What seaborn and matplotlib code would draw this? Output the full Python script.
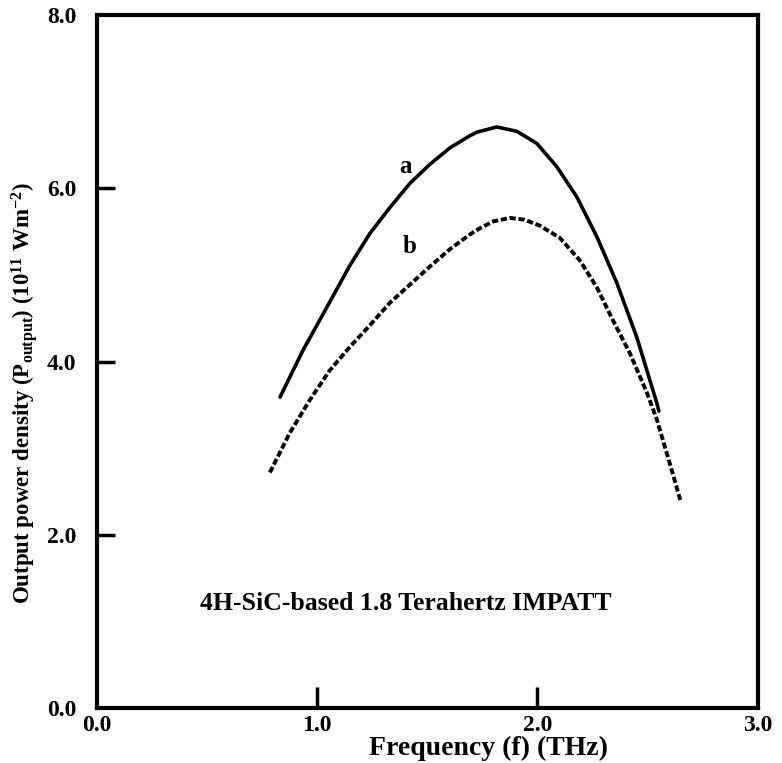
import numpy as np
import pandas as pd
import matplotlib
matplotlib.use("Agg")
import matplotlib.pyplot as plt
import seaborn as sns

# Data
freq_a = [0.831, 0.935, 1.044, 1.148, 1.239, 1.330, 1.421, 1.512, 1.603, 1.694, 1.725,
          1.815, 1.906, 1.997, 2.088, 2.179, 2.270, 2.360, 2.451, 2.542, 2.551]
power_a = [3.59, 4.13, 4.63, 5.11, 5.48, 5.78, 6.06, 6.28, 6.47, 6.61, 6.65,
           6.71, 6.66, 6.52, 6.25, 5.90, 5.44, 4.91, 4.28, 3.52, 3.43]
freq_b = [0.785, 0.876, 0.967, 1.057, 1.148, 1.239, 1.330, 1.421, 1.512, 1.603, 1.694,
          1.738, 1.800, 1.874, 1.940, 2.011, 2.101, 2.192, 2.269, 2.342, 2.419, 2.497,
          2.542, 2.592, 2.651]
power_b = [2.72, 3.18, 3.56, 3.90, 4.17, 4.42, 4.68, 4.89, 5.10, 5.30, 5.47,
           5.54, 5.62, 5.66, 5.64, 5.57, 5.43, 5.17, 4.86, 4.48, 4.10, 3.64,
           3.33, 2.90, 2.38]
x_ticks = [0.0, 1.0, 2.0, 3.0]
y_ticks = [0.0, 2.0, 4.0, 6.0, 8.0]

sns.set_theme(style="white")
plt.rcParams["font.family"] = ["Liberation Serif", "DejaVu Serif"]
plt.rcParams["font.weight"] = "bold"
plt.rcParams["text.color"] = "black"
plt.rcParams["axes.labelcolor"] = "black"
plt.rcParams["xtick.color"] = "black"
plt.rcParams["ytick.color"] = "black"
plt.rcParams["mathtext.fontset"] = "custom"
plt.rcParams["mathtext.rm"] = "Liberation Serif:bold"
plt.rcParams["mathtext.bf"] = "Liberation Serif:bold"
plt.rcParams["mathtext.it"] = "Liberation Serif:bold"

df_a = pd.DataFrame({"f": freq_a, "P": power_a})
df_b = pd.DataFrame({"f": freq_b, "P": power_b})

fig = plt.figure(figsize=(7.82, 7.63), dpi=100)
ax = fig.add_axes([0.124, 0.072, 0.845, 0.908])

sns.lineplot(data=df_a, x="f", y="P", ax=ax, color="black", linewidth=2.6, sort=False)
sns.lineplot(data=df_b, x="f", y="P", ax=ax, color="black", linewidth=2.8, sort=False,
             linestyle=(0, (1.6, 0.7)))

ax.set_xlim(0, 3)
ax.set_ylim(0, 8)
ax.set_xticks(x_ticks)
ax.set_yticks(y_ticks)
ax.set_xticklabels([f"{v:.1f}" for v in x_ticks], fontsize=17, fontweight="bold")
ax.set_yticklabels([f"{v:.1f}" for v in y_ticks], fontsize=17, fontweight="bold")
ax.tick_params(axis="x", bottom=True, direction="in", length=15, width=2.5, pad=5, color="black")
ax.tick_params(axis="y", left=True, direction="in", length=13, width=2.5, pad=15, color="black")

# hide tick marks at the axis ends (only labels there)
for axis in (ax.xaxis, ax.yaxis):
    ticks = axis.get_major_ticks()
    ticks[0].tick1line.set_visible(False)
    ticks[-1].tick1line.set_visible(False)

for s in ax.spines.values():
    s.set_visible(True)
    s.set_linewidth(3)
    s.set_color("black")

ax.set_xlabel("Frequency (f) (THz)", fontsize=20, fontweight="bold")
ax.xaxis.set_label_coords(0.592, -0.040)
ax.set_ylabel(r"Output power density (P$_{\mathrm{output}}$) (10$^{\mathrm{11}}$ Wm$^{\mathrm{-2}}$)",
              fontsize=16.5, fontweight="bold")
ax.yaxis.set_label_coords(-0.086, 0.455)

ax.text(1.40, 6.25, "a", fontsize=18, fontweight="bold", ha="center", va="center")
ax.text(1.42, 5.33, "b", fontsize=18, fontweight="bold", ha="center", va="center")
ax.text(1.40, 1.21, "4H-SiC-based 1.8 Terahertz IMPATT", fontsize=18.5, fontweight="bold",
        ha="center", va="center")

fig.savefig("out.png", dpi=100)
